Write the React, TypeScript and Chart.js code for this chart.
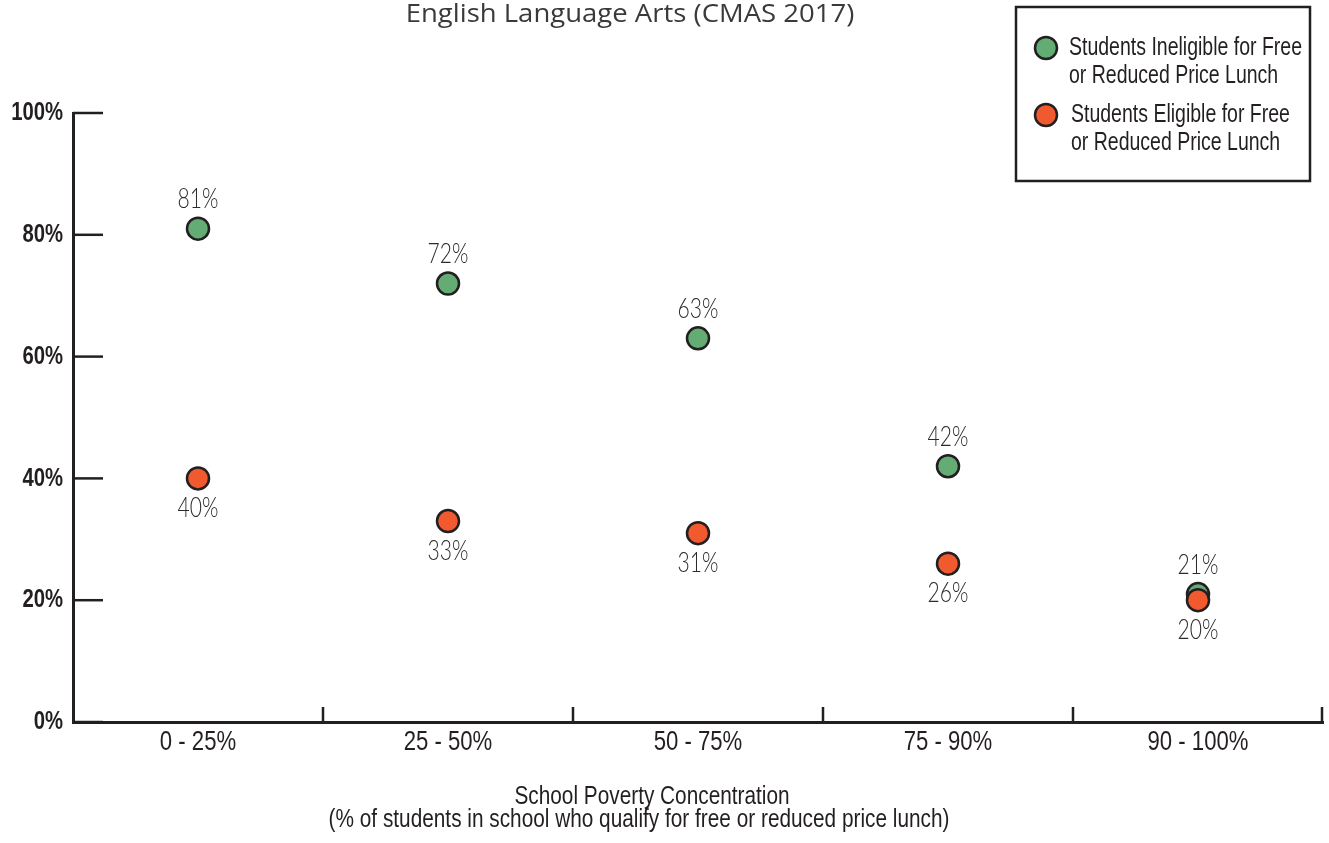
import React, { useEffect, useRef } from "react";
import { Chart, registerables } from "chart.js";

Chart.register(...registerables);

// Poverty-concentration bands along the x axis
const categories = ["0 - 25%", "25 - 50%", "50 - 75%", "75 - 90%", "90 - 100%"];

// Share of students meeting expectations (%)
const ineligibleValues = [81, 72, 63, 42, 21];
const eligibleValues = [40, 33, 31, 26, 20];

// Legend text, one entry per series, split into its two lines
const ineligibleName = ["Students Ineligible for Free", "or Reduced Price Lunch"];
const eligibleName = ["Students Eligible for Free", "or Reduced Price Lunch"];

const yTickValues = [0, 20, 40, 60, 80, 100];

const chartTitle = "English Language Arts (CMAS 2017)";
const xAxisTitle = [
  "School Poverty Concentration",
  "(% of students in school who qualify for free or reduced price lunch)",
];

const GREEN = "#63ad74";
const ORANGE = "#f15a2e";
const INK = "#231f20";
const SANS = "'Liberation Sans', Arial, sans-serif";
const LIGHT = "Lato, 'Open Sans', sans-serif";

const W = 1329;
const H = 843;

// Draws text scaled horizontally (condensed or widened face)
function drawText(
  ctx: CanvasRenderingContext2D,
  text: string,
  x: number,
  y: number,
  font: string,
  sx: number,
  align: CanvasTextAlign,
  color: string
) {
  ctx.save();
  ctx.font = font;
  ctx.fillStyle = color;
  ctx.textAlign = align;
  ctx.textBaseline = "middle";
  ctx.translate(x, y);
  ctx.scale(sx, 1);
  ctx.fillText(text, 0, 0);
  ctx.restore();
}

const backgroundPlugin = {
  id: "whiteBackground",
  beforeDraw(chart: any) {
    const { ctx } = chart;
    ctx.save();
    ctx.fillStyle = "#ffffff";
    ctx.fillRect(0, 0, chart.width, chart.height);
    ctx.restore();
  },
};

// Inward tick marks, tick labels, title, legend and axis caption
const decorPlugin = {
  id: "decor",
  afterDraw(chart: any) {
    const { ctx, chartArea } = chart;
    const xScale = chart.scales.x;
    const yScale = chart.scales.y;
    ctx.save();
    ctx.strokeStyle = INK;
    ctx.lineWidth = 2.5;
    ctx.lineCap = "butt";

    // y tick marks and labels
    yScale.ticks.forEach((t: any) => {
      const y = yScale.getPixelForValue(t.value);
      ctx.beginPath();
      ctx.moveTo(chartArea.left, y);
      ctx.lineTo(chartArea.left + 30, y);
      ctx.stroke();
      drawText(ctx, `${t.value}%`, chartArea.left - 10, y, `bold 26px ${SANS}`, 0.78, "right", INK);
    });

    // x tick marks on category boundaries, labels at category centres
    const n = categories.length;
    const half = (xScale.getPixelForValue(1) - xScale.getPixelForValue(0)) / 2;
    for (let i = 0; i < n; i++) {
      const cx = xScale.getPixelForValue(i);
      const x = Math.min(cx + half, chartArea.right - 1);
      ctx.beginPath();
      ctx.moveTo(x, chartArea.bottom + 1);
      ctx.lineTo(x, chartArea.bottom - 15);
      ctx.stroke();
      drawText(ctx, categories[i], cx, chartArea.bottom + 21, `27px ${SANS}`, 0.82, "center", INK);
    }

    // title
    drawText(ctx, chartTitle, 630, 15, `400 25px 'Open Sans', Lato, sans-serif`, 1.1, "center", "#3a3a3a");

    // x axis caption
    drawText(ctx, xAxisTitle[0], 652, 797, `26px ${SANS}`, 0.8, "center", INK);
    drawText(ctx, xAxisTitle[1], 639, 820, `26px ${SANS}`, 0.8, "center", INK);

    // legend box
    ctx.lineWidth = 2.5;
    ctx.strokeStyle = INK;
    ctx.strokeRect(1016, 7, 294, 174);
    const names = [ineligibleName, eligibleName];
    chart.data.datasets.forEach((ds: any, i: number) => {
      const cy = 48 + i * 67;
      ctx.beginPath();
      ctx.arc(1046, cy, 11, 0, Math.PI * 2);
      ctx.fillStyle = ds.pointBackgroundColor;
      ctx.fill();
      ctx.lineWidth = 2.5;
      ctx.strokeStyle = INK;
      ctx.stroke();
      names[i].forEach((line, j) => {
        drawText(ctx, line, 1069 + i * 2, cy + j * 28, `25px ${SANS}`, 0.78, "left", INK);
      });
    });
    ctx.restore();
  },
};

// Value labels: above the upper series, below the lower series
const valueLabelPlugin = {
  id: "valueLabels",
  afterDatasetsDraw(chart: any) {
    const { ctx } = chart;
    chart.data.datasets.forEach((ds: any, di: number) => {
      const meta = chart.getDatasetMeta(di);
      const dy = di === 0 ? -29 : 30;
      meta.data.forEach((pt: any, i: number) => {
        drawText(ctx, `${ds.data[i]}%`, pt.x, pt.y + dy, `300 27px ${LIGHT}`, 0.78, "center", "#2b2b2b");
      });
    });
  },
};

export default function App() {
  const ref = useRef<HTMLCanvasElement>(null);

  useEffect(() => {
    if (!ref.current) return;
    const chart = new Chart(ref.current, {
      type: "line",
      data: {
        labels: categories,
        datasets: [
          {
            label: ineligibleName.join(" "),
            data: ineligibleValues,
            showLine: false,
            backgroundColor: GREEN,
            borderColor: INK,
            pointBackgroundColor: GREEN,
            pointBorderColor: INK,
            pointBorderWidth: 2.5,
            pointRadius: 11,
            pointHoverRadius: 11,
            order: 1,
          },
          {
            label: eligibleName.join(" "),
            data: eligibleValues,
            showLine: false,
            backgroundColor: ORANGE,
            borderColor: INK,
            pointBackgroundColor: ORANGE,
            pointBorderColor: INK,
            pointBorderWidth: 2.5,
            pointRadius: 11,
            pointHoverRadius: 11,
            order: 0,
          },
        ],
      },
      options: {
        responsive: false,
        animation: false,
        devicePixelRatio: 1,
        layout: { autoPadding: false, padding: { top: 113, right: 6, left: 0, bottom: 0 } },
        plugins: {
          legend: { display: false },
          title: { display: false },
          tooltip: { enabled: false },
        },
        scales: {
          x: {
            type: "category",
            offset: true,
            grid: { display: false },
            border: { display: true, color: INK, width: 3 },
            ticks: { display: false },
            afterFit(scale: any) {
              scale.height = 121;
            },
          },
          y: {
            min: 0,
            max: 100,
            afterBuildTicks(scale: any) {
              scale.ticks = yTickValues.map((v) => ({ value: v }));
            },
            grid: { display: false },
            border: { display: true, color: INK, width: 3 },
            ticks: { display: false },
            afterFit(scale: any) {
              scale.width = 73;
            },
          },
        },
      },
      plugins: [backgroundPlugin, valueLabelPlugin, decorPlugin],
    });
    return () => chart.destroy();
  }, []);

  return (
    <div style={{ position: "absolute", left: 0, top: 0, width: W, height: H }}>
      <canvas ref={ref} width={W} height={H} style={{ display: "block" }} />
    </div>
  );
}
